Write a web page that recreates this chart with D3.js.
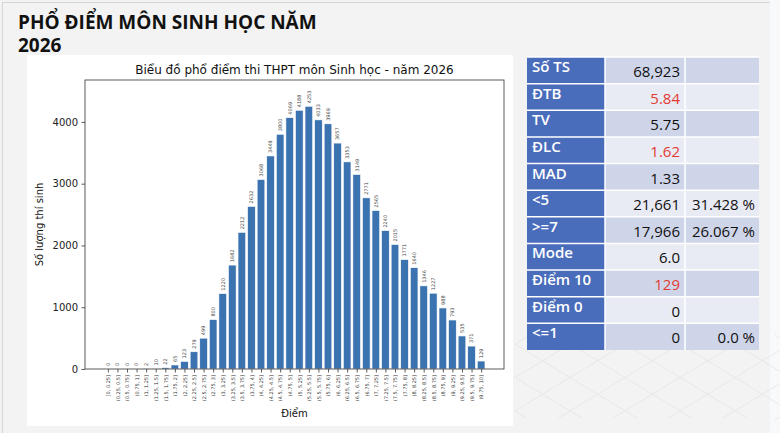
<!DOCTYPE html>
<html>
<head>
<meta charset="utf-8">
<script src="https://cdn.jsdelivr.net/npm/d3@7"></script>
<style>
  html, body { margin: 0; padding: 0; background: #f3f3f3; }
  svg { display: block; }
</style>
</head>
<body>
<svg id="page" width="780" height="433"></svg>
<script>
// score bins
const binLabels = ["[0, 0.25]", "(0.25, 0.5]", "(0.5, 0.75]", "(0.75, 1]", "(1, 1.25]", "(1.25, 1.5]",
  "(1.5, 1.75]", "(1.75, 2]", "(2, 2.25]", "(2.25, 2.5]", "(2.5, 2.75]", "(2.75, 3]", "(3, 3.25]",
  "(3.25, 3.5]", "(3.5, 3.75]", "(3.75, 4]", "(4, 4.25]", "(4.25, 4.5]", "(4.5, 4.75]", "(4.75, 5]",
  "(5, 5.25]", "(5.25, 5.5]", "(5.5, 5.75]", "(5.75, 6]", "(6, 6.25]", "(6.25, 6.5]", "(6.5, 6.75]",
  "(6.75, 7]", "(7, 7.25]", "(7.25, 7.5]", "(7.5, 7.75]", "(7.75, 8]", "(8, 8.25]", "(8.25, 8.5]",
  "(8.5, 8.75]", "(8.75, 9]", "(9, 9.25]", "(9.25, 9.5]", "(9.5, 9.75]", "(9.75, 10]"];
const counts = [0, 0, 0, 0, 2, 10, 22, 65, 123, 279, 499, 800, 1220, 1682, 2212, 2632, 3068, 3449,
  3800, 4069, 4188, 4253, 4033, 3969, 3657, 3353, 3149, 2771, 2565, 2240, 2015, 1771, 1640, 1346,
  1227, 988, 793, 535, 371, 129];
const yTicks = [0, 1000, 2000, 3000, 4000];

// stats table
const statNames = ["Số TS", "ĐTB", "TV", "ĐLC", "MAD", "<5", ">=7", "Mode", "Điểm 10", "Điểm 0", "<=1"];
const statValues = ["68,923", "5.84", "5.75", "1.62", "1.33", "21,661", "17,966", "6.0", "129", "0", "0"];
const statPercents = ["", "", "", "", "", "31.428 %", "26.067 %", "", "", "", "0.0 %"];
const redRows = ["ĐTB", "ĐLC", "Điểm 10"];

const svg = d3.select("#page");

// slide background
svg.append("rect").attr("x", 770).attr("y", 0).attr("width", 10).attr("height", 433).attr("fill", "#f8f9fb");

// faint perspective grid in the corner
var grid = svg.append("g").attr("stroke", "#e4e4e4").attr("stroke-width", 0.8);
d3.range(-6, 10).forEach(i => {
    grid.append("line").attr("x1", 500 + i * 55).attr("y1", 335).attr("x2", 500 + i * 55 + 140).attr("y2", 420);
    grid.append("line").attr("x1", 500 + i * 55 + 140).attr("y1", 335).attr("x2", 500 + i * 55).attr("y2", 420);
});
svg.append("rect").attr("x", 0).attr("y", 330).attr("width", 515).attr("height", 103).attr("fill", "#f3f3f3");
svg.append("rect").attr("x", 515).attr("y", 418).attr("width", 255).attr("height", 15).attr("fill", "#f3f3f3");

svg.append("line").attr("x1", 2).attr("x2", 770).attr("y1", 2.5).attr("y2", 2.5).attr("stroke", "#d6d6d6");
svg.append("line").attr("x1", 2.5).attr("x2", 2.5).attr("y1", 2).attr("y2", 433).attr("stroke", "#d6d6d6");

// page title
var title = svg.append("g").attr("font-family", "'Open Sans', sans-serif").attr("font-weight", 700)
    .attr("font-size", 19).attr("fill", "#111");
title.append("text").attr("x", 18).attr("y", 29).text("PHỔ ĐIỂM MÔN SINH HỌC NĂM");
title.append("text").attr("x", 18).attr("y", 52).text("2026");

// chart image
svg.append("rect").attr("x", 27).attr("y", 55).attr("width", 486).attr("height", 371).attr("fill", "#fff");

var plot = { left: 85, right: 504, top: 80, bottom: 369 };
var x = d3.scaleLinear().domain([-2.39, 41.39]).range([plot.left, plot.right]);
var y = d3.scaleLinear().domain([0, d3.max(counts) * 1.1]).range([plot.bottom, plot.top]);
var step = x(1) - x(0);

var chart = svg.append("g").attr("font-family", "'DejaVu Sans', sans-serif");

chart.append("g")
    .selectAll("rect")
    .data(counts)
    .enter()
    .append("rect")
    .attr("x", (d, i) => x(i - 0.4))
    .attr("width", step * 0.8)
    .attr("y", d => y(d))
    .attr("height", d => plot.bottom - y(d))
    .attr("fill", "#3a73af")
    .attr("stroke", "#fff")
    .attr("stroke-width", 0.6);

chart.append("g")
    .selectAll("text")
    .data(counts)
    .enter()
    .append("text")
    .attr("transform", (d, i) => "translate(" + (x(i) + 1.8) + "," + (y(d) - 3) + ") rotate(-90)")
    .attr("font-size", 5)
    .attr("fill", "#444")
    .text(d => d);

// axes
var yAxis = chart.append("g")
    .attr("transform", "translate(" + plot.left + ",0)")
    .call(d3.axisLeft(y).tickValues(yTicks).tickFormat(d3.format("d")).tickSize(3.5).tickPadding(3.5));
yAxis.selectAll("text")
    .attr("font-family", "'DejaVu Sans', sans-serif")
    .attr("font-size", 10)
    .attr("fill", "#222");

var xAxis = chart.append("g")
    .attr("transform", "translate(0," + plot.bottom + ")")
    .call(d3.axisBottom(x).tickValues(d3.range(binLabels.length)).tickFormat(i => binLabels[i]).tickSize(3.5));
xAxis.selectAll("text")
    .attr("font-family", "'DejaVu Sans', sans-serif")
    .attr("font-size", 5)
    .attr("fill", "#333")
    .attr("text-anchor", "end")
    .attr("dy", null)
    .attr("y", 0)
    .attr("transform", "translate(1.8,6) rotate(-90)");
chart.selectAll(".domain").remove();
chart.selectAll(".tick line").attr("stroke", "#333").attr("stroke-width", 0.8);

chart.append("rect")
    .attr("x", plot.left).attr("y", plot.top)
    .attr("width", plot.right - plot.left).attr("height", plot.bottom - plot.top)
    .attr("fill", "none").attr("stroke", "#333").attr("stroke-width", 0.8);

chart.append("text")
    .attr("x", (plot.left + plot.right) / 2).attr("y", 74)
    .attr("text-anchor", "middle").attr("font-size", 12).attr("fill", "#111")
    .text("Biểu đồ phổ điểm thi THPT môn Sinh học - năm 2026");
chart.append("text")
    .attr("x", (plot.left + plot.right) / 2).attr("y", 417)
    .attr("text-anchor", "middle").attr("font-size", 10).attr("fill", "#111")
    .text("Điểm");
chart.append("text")
    .attr("transform", "translate(43," + (plot.top + plot.bottom) / 2 + ") rotate(-90)")
    .attr("text-anchor", "middle").attr("font-size", 10).attr("fill", "#111")
    .text("Số lượng thí sinh");

// stats table
var cols = [527, 605, 685, 759];
var rowY = d3.scaleBand().domain(d3.range(statNames.length)).range([57, 350]);
var table = svg.append("g").attr("font-family", "'Open Sans', sans-serif").attr("font-size", 15);

var rows = table.selectAll("g")
    .data(statNames)
    .enter()
    .append("g")
    .attr("transform", (d, i) => "translate(0," + rowY(i) + ")");

rows.append("rect").attr("x", cols[0]).attr("width", cols[1] - cols[0]).attr("height", rowY.bandwidth())
    .attr("fill", "#4a6dbb");
rows.append("rect").attr("x", cols[1]).attr("width", cols[3] - cols[1]).attr("height", rowY.bandwidth())
    .attr("fill", (d, i) => i % 2 == 0 ? "#cfd5e9" : "#e8eaf4");
rows.append("line").attr("x1", cols[2]).attr("x2", cols[2]).attr("y1", 0).attr("y2", rowY.bandwidth())
    .attr("stroke", "#fff").attr("stroke-width", 1.5);
rows.append("line").attr("x1", cols[0]).attr("x2", cols[3]).attr("y1", 0).attr("y2", 0)
    .attr("stroke", "#fff").attr("stroke-width", 1.5);
rows.append("line").attr("x1", cols[1]).attr("x2", cols[1]).attr("y1", 0).attr("y2", rowY.bandwidth())
    .attr("stroke", "#fff").attr("stroke-width", 1.5);

rows.append("text").attr("x", cols[0] + 5).attr("y", 15)
    .attr("fill", "#fff").attr("font-weight", 600).text(d => d);
rows.append("text").attr("x", cols[2] - 5).attr("y", 20).attr("text-anchor", "end")
    .attr("fill", d => redRows.includes(d) ? "#e23b32" : "#111")
    .text((d, i) => statValues[i]);
rows.append("text").attr("x", cols[3] - 4).attr("y", 20).attr("text-anchor", "end")
    .attr("fill", "#111")
    .text((d, i) => statPercents[i]);
</script>
</body>
</html>
